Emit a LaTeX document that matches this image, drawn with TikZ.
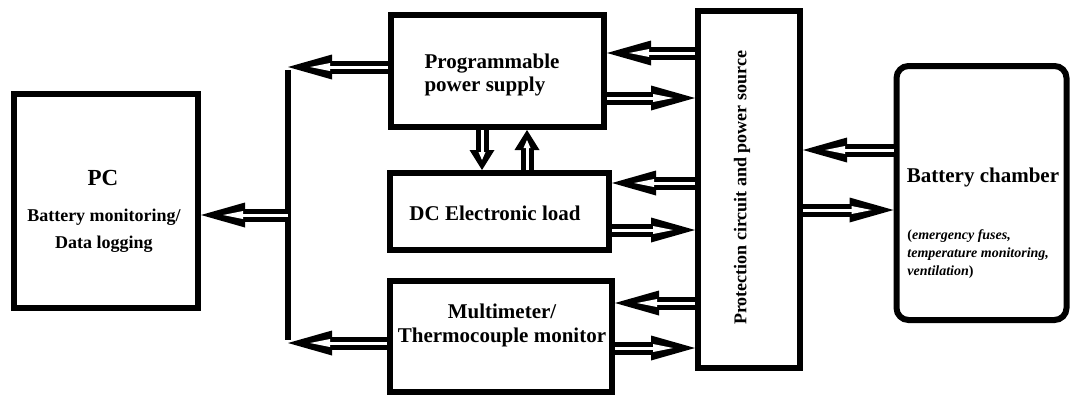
\documentclass[tikz,border=0pt]{standalone}
\usepackage{fontspec}
\setmainfont{Liberation Serif}
\usetikzlibrary{arrows.meta}
\tikzset{
  box/.style={draw, line width=3pt, inner sep=0pt, font=\bfseries\fontsize{10.5}{12}\selectfont},
  arrowout/.style={line width=6.5pt, -{Triangle[length=22pt,width=12.5pt,line width=0pt]}},
  arrowin/.style={white, line width=1.5pt, shorten >=11pt, -{Triangle[length=10pt,width=4pt,line width=0pt]}},
  arrowoutshort/.style={line width=6.5pt, -{Triangle[length=10pt,width=12.5pt,line width=0pt]}},
  arrowinshort/.style={white, line width=1.5pt, shorten >=5pt, -{Triangle[length=4pt,width=3.5pt,line width=0pt]}},
}
\newcommand{\dblarrow}[3][]{%
  \draw[arrowout#1] #2 -- #3;
  \draw[arrowin#1] #2 -- #3;}
\begin{document}
\begin{tikzpicture}[x=0.5pt,y=-0.5pt]
\useasboundingbox (0,0) rectangle (1070,396);
% boxes
\node[box, minimum width=92pt, minimum height=107pt] (pc) at (106,201) {};
\node[box, minimum width=106.5pt, minimum height=56pt] (pps) at (497.5,71) {};
\node[box, minimum width=109.5pt, minimum height=38.5pt] (load) at (499.5,211.5) {};
\node[box, minimum width=111pt, minimum height=55.5pt] (meter) at (501,336.5) {};
\node[box, minimum width=51pt, minimum height=178.5pt] (prot) at (749,189.5) {};
\node[box, rounded corners=6pt, minimum width=85pt, minimum height=127pt] (chamber) at (981.5,193) {};
% texts
\node[font=\bfseries\fontsize{11.5}{13}\selectfont] (pctitle) at (103,178) {PC};
\node[font=\bfseries\fontsize{9}{13.5}\selectfont, align=center] (pctext) at (104,231) {Battery monitoring/\\Data logging};
\node[font=\bfseries\fontsize{10.5}{11.5}\selectfont, align=left] (ppstext) at (492,75) {Programmable\\power supply};
\node[font=\bfseries\fontsize{10.5}{12}\selectfont] (loadtext) at (495,213) {DC Electronic load};
\node[font=\bfseries\fontsize{10.5}{12}\selectfont, align=center] (metertext) at (502,325) {Multimeter/\\Thermocouple monitor};
\node[font=\bfseries\fontsize{9}{10}\selectfont, rotate=90] (prottext) at (742,188) {Protection circuit and power source};
\node[font=\bfseries\fontsize{10.5}{12}\selectfont] (chtitle) at (983,177) {Battery chamber};
\node[font=\bfseries\fontsize{7}{9}\selectfont, align=left, anchor=north west, inner sep=0pt] (chtext) at (907,229)
  {(\textit{emergency fuses,}\\\textit{temperature monitoring,}\\\textit{ventilation})};
% bus
\coordinate (bustop) at (288,67);
\coordinate (busmid) at (288,215);
\coordinate (busbot) at (288,343);
\draw[line width=3pt] ([yshift=-1.5pt]bustop) -- ([yshift=1.5pt]busbot);
\dblarrow{(pps.west |- bustop)}{(bustop)}
\dblarrow{(meter.west |- busbot)}{(busbot)}
\dblarrow{(busmid)}{(pc.east |- busmid)}
% to protection
\dblarrow{(prot.west |- 0,53)}{(pps.east |- 0,53)}
\dblarrow{(pps.east |- 0,98)}{(prot.west |- 0,98)}
\dblarrow{(prot.west |- 0,183)}{(load.east |- 0,183)}
\dblarrow{(load.east |- 0,230)}{(prot.west |- 0,230)}
\dblarrow{(prot.west |- 0,303)}{(meter.east |- 0,303)}
\dblarrow{(meter.east |- 0,348)}{(prot.west |- 0,348)}
\dblarrow{(chamber.west |- 0,150)}{(prot.east |- 0,150)}
\dblarrow{(prot.east |- 0,210)}{(chamber.west |- 0,210)}
% supply and load
\dblarrow[short]{(pps.south -| 482,0)}{(load.north -| 482,0)}
\dblarrow[short]{(load.north -| 527,0)}{(pps.south -| 527,0)}
\end{tikzpicture}
\end{document}
